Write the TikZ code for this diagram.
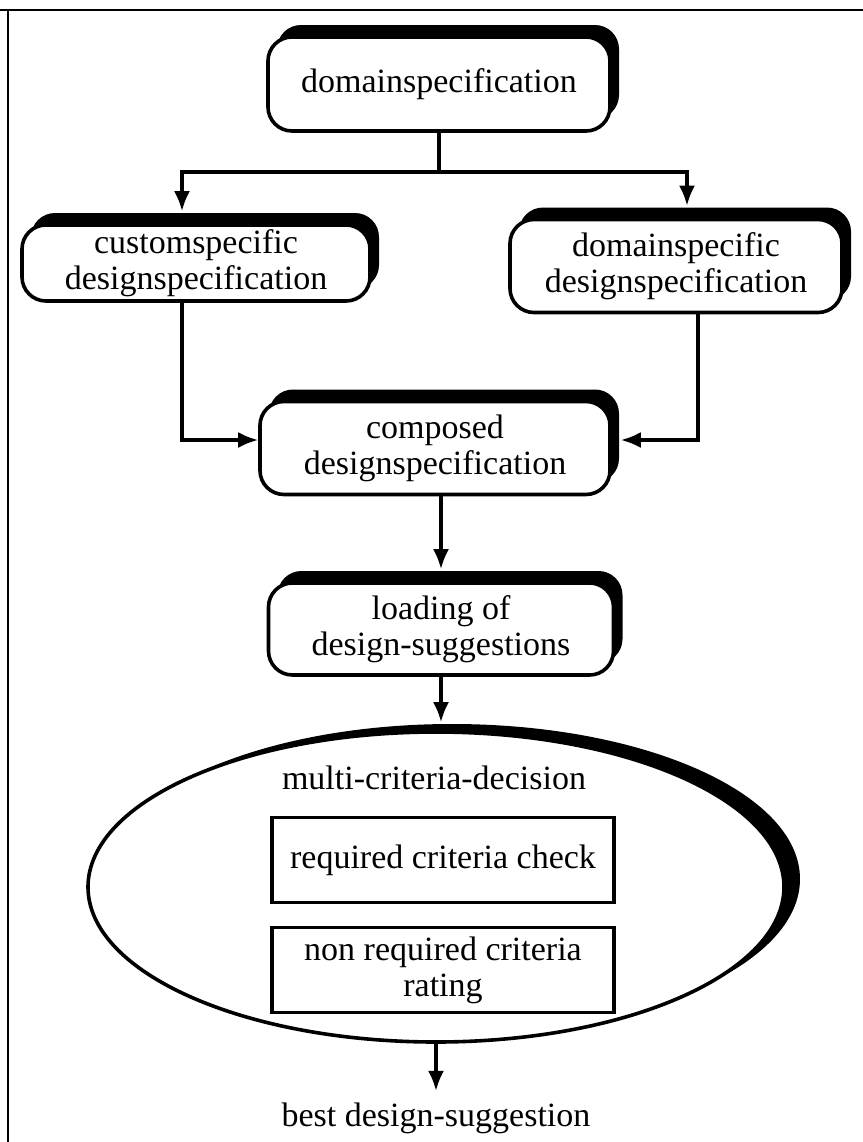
\documentclass[tikz,border=0pt]{standalone}
\usepackage{fontspec}
\setmainfont{Liberation Serif}
\usetikzlibrary{shapes.geometric, arrows.meta, shadows}
\tikzstyle{block} = [draw, rectangle, rounded corners=12pt, line width=1.8pt, fill=white, align=center, inner sep=0pt, drop shadow={shadow xshift=4.5pt, shadow yshift=6pt, opacity=1, fill=black}]
\tikzstyle{decision} = [draw, ellipse, line width=1.8pt, fill=white, inner sep=0pt, minimum width=348pt, minimum height=155pt, drop shadow={shadow xshift=8pt, shadow yshift=4pt, opacity=1, fill=black}]
\tikzstyle{crit} = [draw, rectangle, line width=1.8pt, fill=white, align=center, minimum width=171pt, minimum height=42.5pt, inner sep=0pt]
\tikzstyle{plain} = [align=center, inner sep=2pt]
\tikzstyle{support} = [coordinate]

\begin{document}
\begin{tikzpicture}[x=0.5pt, y=-0.5pt, >={Latex[length=10pt,width=8pt]}, line width=1.6pt, font=\fontsize{17}{18}\selectfont]
\useasboundingbox (0,0) rectangle (863,1142);
% frame
\coordinate (frameTL) at (8,10);
\draw [line width=1pt] (0,10) -- (863,10);
\draw [line width=1pt] (frameTL) -- (8,1142);

\node [block, minimum width=171pt, minimum height=47pt] (domspec) at (439,84) {domainspecification};
\node [block, minimum width=174pt, minimum height=38pt] (custspec) at (196,263) {customspecific\\designspecification};
\node [block, minimum width=166pt, minimum height=46.5pt] (domdesign) at (676,266) {domainspecific\\designspecification};
\node [block, minimum width=175pt, minimum height=46.5pt] (composed) at (435,448) {composed\\designspecification};
\node [block, minimum width=172.5pt, minimum height=46pt] (loading) at (441,629) {loading of\\design-suggestions};

\node [decision] (decision) at (436,887) {};
\node [plain] (mcd) at (434,778) {multi-criteria-decision};
\node [crit] (reqcheck) at (443,860) {required criteria check};
\node [crit] (nonreq) at (443,970) {non required criteria\\rating};
\node [plain] (best) at (436,1118) {best design-suggestion};

\node [support] (split) at (439,172) {};
\node [support] (splitL) at (182,172) {};
\node [support] (splitR) at (687,172) {};

\draw (domspec.south) -- (split);
\draw [->, shorten >=6pt] (split) -| (splitL |- custspec.north);
\draw [->, shorten >=6pt] (split) -| (splitR |- domdesign.north);
\draw [->] (splitL |- custspec.south) |- ([yshift=4pt]composed.west);
\draw [->, shorten >=4.5pt] ([xshift=11pt]domdesign.south) |- ([yshift=4pt]composed.east);
\draw [->, shorten >=6pt] (loading.north |- composed.south) -- (loading.north);
\draw [->, shorten >=4pt] (loading.south) -- (loading.south |- decision.north);
\draw [->, shorten >=3pt] (decision.south) -- (decision.south |- best.north);
\end{tikzpicture}
\end{document}
